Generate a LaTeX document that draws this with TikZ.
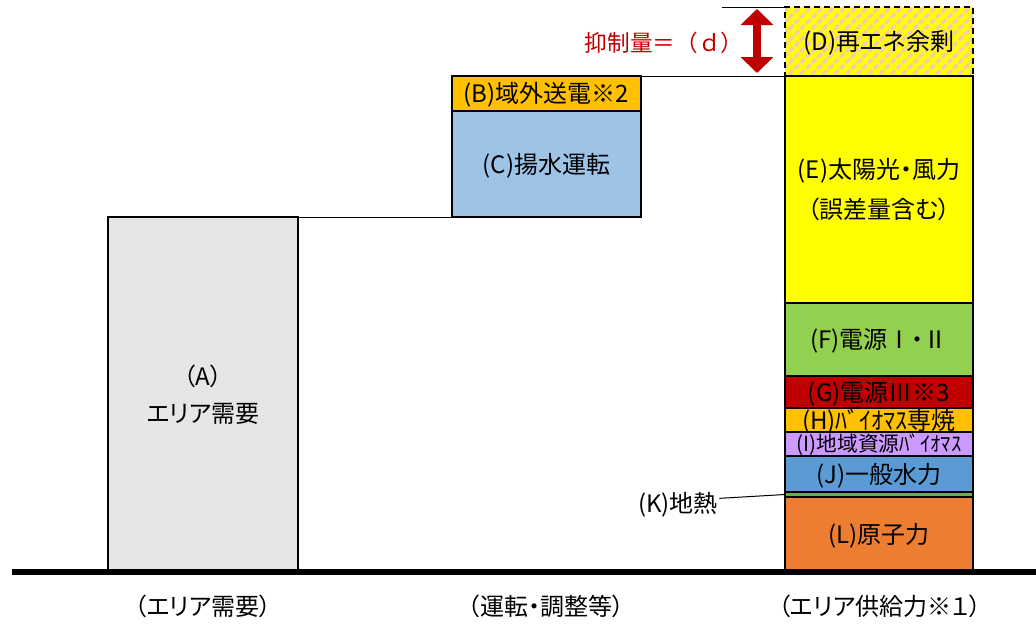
\documentclass[tikz,border=0pt]{standalone}
\usepackage{fontspec}
\setmainfont{Noto Sans CJK JP}[RawFeature=+palt]
\newfontfamily\widejp{Noto Sans CJK JP}
\usetikzlibrary{arrows.meta,patterns.meta}

\definecolor{demandgray}{HTML}{E7E6E6}
\definecolor{outblue}{HTML}{9DC3E6}
\definecolor{offorange}{HTML}{FFC000}
\definecolor{solaryellow}{HTML}{FFFF00}
\definecolor{hatchpink}{HTML}{F8CBAD}
\definecolor{srcgreen}{HTML}{92D050}
\definecolor{srcred}{HTML}{C00000}
\definecolor{biolilac}{HTML}{CC99FF}
\definecolor{hydroblue}{HTML}{5B9BD5}
\definecolor{geogreen}{HTML}{70AD47}
\definecolor{nucorange}{HTML}{ED7D31}

\tikzset{every picture/.style={line width=0.75pt}}
\tikzset{
  bar/.style={draw=black, line width=1.5pt, inner sep=0pt, outer sep=0pt, minimum width=141pt, font=\fontsize{18}{21}\selectfont},
  slim/.style={bar, text height=13.5pt, text depth=0pt},
  surplus/.style={slim, preaction={fill=solaryellow}, pattern={Lines[angle=45,distance=6pt,line width=2.5pt]}, pattern color=hatchpink, dash pattern=on 4.5pt off 3pt},
  txt/.style={inner sep=0.75pt, font=\fontsize{18}{21}\selectfont}
}

\begin{document}
\begin{tikzpicture}[x=0.75pt,y=0.75pt,yscale=-1,xscale=1]
\useasboundingbox (0,0) rectangle (1036,626);

% Area demand
\node[bar, line width=2pt, fill=demandgray, minimum width=142.5pt, minimum height=266.25pt, align=center, font=\fontsize{18}{28}\selectfont] (A) at (203,394.5) {（A）\\エリア需要};

% Operation / adjustment
\node[slim, fill=outblue, minimum width=141.75pt, minimum height=79.5pt] (C) at (546.5,164) {(C)揚水運転};
\node[slim, fill=offorange, minimum width=141.75pt, minimum height=26.25pt] (B) at (546.5,93.5) {(B)域外送電※2};

% Area supply
\node[surplus, minimum height=51.75pt] (D) at (879,41.5) {(D)再エネ余剰};
\node[bar, fill=solaryellow, minimum height=170.25pt, align=center, font=\fontsize{18}{30}\selectfont] (E) at (879,189.5) {(E)太陽光・風力\\（誤差量含む）};
\node[slim, fill=srcgreen, minimum height=54.75pt] (F) at (879,339.5) {(F)電源Ⅰ・Ⅱ};
\node[slim, fill=srcred, minimum height=24pt] (G) at (879,392) {(G)電源Ⅲ※3};
\node[slim, fill=offorange, minimum height=18pt] (H) at (879,420) {(H)ﾊﾞｲｵﾏｽ専焼};
\node[slim, fill=biolilac, minimum height=18pt, font=\fontsize{15.5}{18}\selectfont, text height=11.6pt] (I) at (879,444) {(I)地域資源ﾊﾞｲｵﾏｽ};
\node[slim, fill=hydroblue, minimum height=27pt] (J) at (879,474) {(J)一般水力};
\node[bar, fill=geogreen, minimum height=3.75pt] (K) at (879,494.5) {};
\node[slim, fill=nucorange, minimum height=56.25pt] (L) at (879,534.5) {(L)原子力};

% Connecting lines
\draw (A.north east) -- (C.south west);
\draw (B.north east) -- (E.north west);
\coordinate (dtop) at (722,7);
\draw (dtop) -- (D.north west);

% Curtailment arrow
\coordinate (dup) at (757,9);
\coordinate (ddown) at (757,73);
\draw[srcred, line width=6pt, {Triangle[width=24pt,length=12pt]}-{Triangle[width=24pt,length=12pt]}] (dup) -- (ddown);

% Text Node
\node[txt, text=srcred, font=\widejp\fontsize{17}{20}\selectfont] (dlab) at (664,43) {抑制量＝（ｄ）};
% Text Node
\node[txt] (Klab) at (678,505) {(K)地熱};
\draw ([yshift=-5pt]Klab.east) -- (K.west);

% Ground line
\coordinate (gl) at (12,572);
\coordinate (gr) at (1036,572);
\draw[line width=4.5pt] (gl) -- (gr);

% Text Node
\node[txt] (cap1) at (203,606) {（エリア需要）};
% Text Node
\node[txt] (cap2) at (546,606) {（運転・調整等）};
% Text Node
\node[txt] (cap3) at (880,606) {（エリア供給力※１）};

\end{tikzpicture}
\end{document}
